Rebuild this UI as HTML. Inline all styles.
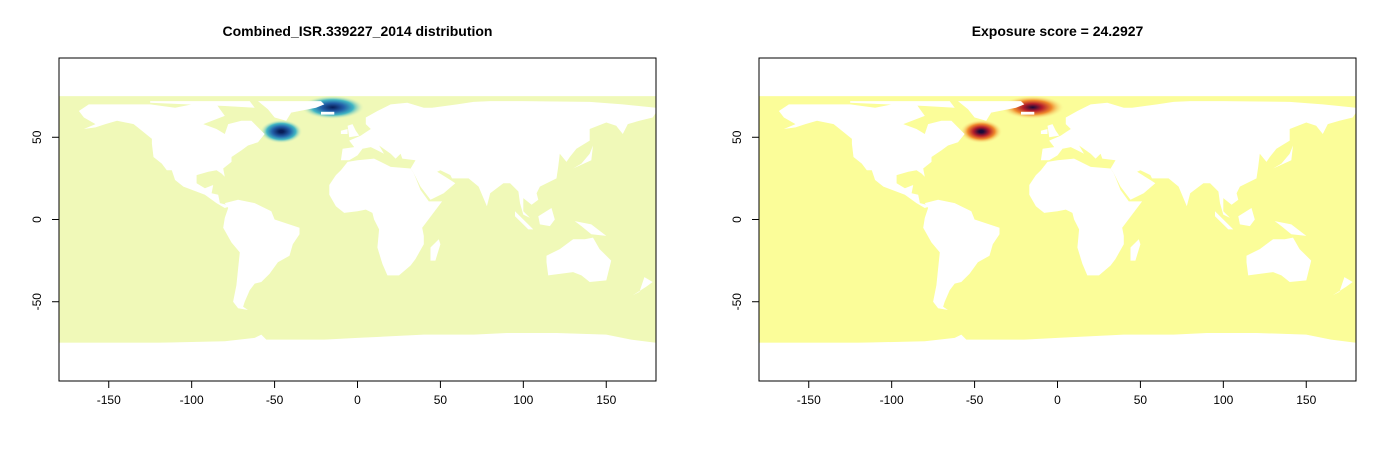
<!DOCTYPE html>
<html><head><meta charset="utf-8"><style>
body{margin:0;background:#fff;font-family:"Liberation Sans",Arial,sans-serif;}
svg text{font-family:"Liberation Sans",Arial,sans-serif;}
</style></head><body>
<svg id="root" width="1399" height="455" xmlns="http://www.w3.org/2000/svg"></svg>
<script>
const xTicks=[-150,-100,-50,0,50,100,150];
const yTicks=[-50,0,50];
const hotLon=[-46,-15];
const hotLat=[53.5,68.2];
const hotRx=[8,12];
const hotRy=[4.5,4.5];
const hotPeak=[0.75,1.0];
const titles=["Combined_ISR.339227_2014 distribution","Exposure score = 24.2927"];
const continents={
na:[[-168,66],[-162,70],[-140,70],[-125,70],[-110,68],[-95,71],[-85,70],[-80,63],[-93,58],[-85,55],[-80,52],[-78,58],[-70,60],[-64,60],[-56,52],[-60,47],[-66,45],[-70,42],[-76,38],[-76,35],[-81,31],[-80,26],[-82,28],[-85,30],[-90,29],[-97,27],[-97,22],[-92,19],[-87,21],[-88,16],[-84,15],[-83,10],[-79,9],[-77,8],[-80,7],[-85,10],[-92,15],[-105,20],[-110,24],[-112,30],[-115,30],[-118,34],[-123,38],[-124,46],[-124,49],[-130,54],[-135,58],[-145,60],[-152,58],[-158,56],[-165,55],[-158,58],[-165,62]],
arcticCa:[[-125,72],[-65,72],[-62,68],[-80,69],[-125,71]],
greenland:[[-60,72],[-22,72],[-20,70],[-25,68],[-40,65],[-43,60],[-50,62],[-54,67]],
iceland:[[-22,63.8],[-14,63.8],[-14,65.5],[-22,65.5]],
eurasia:[[-10,36],[-9,43],[-2,44],[-5,48],[2,51],[5,53],[8,55],[5,58],[5,62],[12,66],[20,70],[30,71],[40,68],[45,68],[60,70],[70,71.5],[80,72],[100,72],[140,71.5],[160,70],[180,68],[180,65],[178,62],[170,60],[163,58],[160,52],[156,57],[150,59],[140,55],[140,48],[132,43],[128,38],[126,35],[122,40],[121,32],[120,25],[110,20],[108,16],[109,12],[105,9],[100,13],[100,5],[104,1],[100,3],[98,10],[97,17],[92,22],[88,22],[80,16],[78,8],[73,20],[67,25],[57,25],[56,27],[50,30],[48,29],[56,24],[59,22],[52,16],[44,12],[38,20],[34,28],[32,31],[35,36],[27,37],[26,40],[23,37],[20,40],[13,45],[16,40],[12,42],[8,44],[3,43],[0,39],[-5,36]],
britain:[[-5,50],[1,51],[-1,54],[-3,58],[-6,57]],
ireland:[[-10,52],[-6,52],[-6,55],[-10,54]],
africa:[[-17,21],[-17,15],[-13,8],[-8,4],[0,5],[5,6],[9,4],[10,0],[13,-6],[12,-17],[15,-27],[18,-34],[25,-34],[32,-28],[35,-24],[40,-15],[40,-10],[39,-5],[42,-1],[51,11],[43,11],[38,18],[34,28],[32,31],[20,32],[10,37],[0,36],[-6,35],[-10,30],[-13,27]],
madagascar:[[44,-25],[47,-25],[50,-15],[49,-12],[44,-17]],
sa:[[-80,10],[-72,12],[-62,10],[-52,5],[-50,0],[-35,-5],[-35,-9],[-39,-15],[-41,-22],[-48,-26],[-53,-33],[-58,-38],[-62,-39],[-65,-43],[-68,-50],[-69,-53],[-66,-55],[-72,-54],[-75,-50],[-73,-40],[-72,-30],[-71,-20],[-76,-14],[-81,-5],[-80,1],[-78,7]],
australia:[[114,-22],[122,-18],[130,-12],[137,-12],[142,-11],[146,-18],[153,-25],[150,-37],[140,-38],[135,-34],[130,-32],[115,-34],[114,-26]],
borneo:[[109,2],[117,7],[119,0],[116,-4],[110,-3]],
sumatra:[[95,5],[106,-6],[103,-6],[95,2]],
newguinea:[[131,-1],[141,-3],[150,-10],[141,-9],[135,-4]],
japan:[[130,31],[141,36],[142,45],[140,40],[135,34]],
nz:[[166,-46],[174,-41],[178,-38],[173,-35],[170,-44]],
antarctica:[[-180,-76],[180,-76],[180,-75],[165,-73],[150,-70],[120,-69],[90,-69],[70,-70],[40,-70],[20,-71],[0,-72],[-20,-73],[-55,-73],[-58,-70],[-62,-72],[-80,-74],[-120,-75],[-180,-75]]
};
const NS="http://www.w3.org/2000/svg";
const root=document.getElementById('root');
function mk(tag,attrs,parent){const e=document.createElementNS(NS,tag);for(const k in attrs)e.setAttribute(k,attrs[k]);(parent||root).appendChild(e);return e;}
const panels=[{x0:59,ocean:"#f0f9b8",stops:[["#081d58",0],["#225ea8",0.35],["#41b6c4",0.65],["#f0f9b8",1]]},
              {x0:759,ocean:"#fbfd99",stops:[["#1a0a3a",0],["#b31d2b",0.3],["#f08a2c",0.6],["#fbfd99",1]]}];
const W=597,y0=58,H=323;
panels.forEach((p,pi)=>{
  const g=mk('g',{});
  
  
  const sx=lon=>p.x0+(lon+180)/360*W;
  const sy=lat=>y0+(98.2-lat)/196.4*H;
  const defs=mk('defs',{},g);
  const cp=mk('clipPath',{id:'clip'+pi},defs);
  mk('rect',{x:p.x0,y:y0,width:W,height:H},cp);
  const oc=mk('rect',{x:sx(-180),y:sy(75),width:W,height:sy(-75)-sy(75),fill:p.ocean},g);
  
  
  hotLon.forEach((lon,i)=>{
    const gr=mk('radialGradient',{id:'hg'+pi+'_'+i},defs);
    p.stops.forEach(s=>{mk('stop',{offset:(s[1]*0.999+(1-hotPeak[i])*0.4*(1-s[1])),'stop-color':s[0],'stop-opacity':s[1]>=1?0:1},gr);});
    const e=mk('ellipse',{cx:sx(lon),cy:sy(hotLat[i]),rx:hotRx[i]*W/360*1.6,ry:hotRy[i]*H/196.4*1.6,fill:'url(#hg'+pi+'_'+i+')'},g);
    
    
  });
  const lg=mk('g',{'clip-path':'url(#clip'+pi+')'},g);
  for(const k in continents){
    const pts=continents[k].map(q=>sx(q[0]).toFixed(1)+','+sy(q[1]).toFixed(1)).join(' ');
    const poly=mk('polygon',{points:pts,fill:'#fff'},lg);
    
    
  }
  const fr=mk('rect',{x:p.x0,y:y0,width:W,height:H,fill:'none',stroke:'#000','stroke-width':1},g);
  
  
  xTicks.forEach(t=>{
    mk('line',{x1:sx(t),x2:sx(t),y1:y0+H,y2:y0+H+7,stroke:'#000'},g);
    const tx=mk('text',{x:sx(t),y:y0+H+23,'font-size':12,'text-anchor':'middle'},g);
    tx.textContent=t;
    
    
  });
  yTicks.forEach(t=>{
    mk('line',{x1:p.x0,x2:p.x0-7,y1:sy(t),y2:sy(t),stroke:'#000'},g);
    const tx=mk('text',{x:p.x0-18,y:sy(t),'font-size':12,'text-anchor':'middle',transform:'rotate(-90 '+(p.x0-18)+' '+sy(t)+')'},g);
    tx.textContent=t;
    
    
  });
  const ti=mk('text',{x:p.x0+W/2,y:36,'font-size':14,'font-weight':'bold','text-anchor':'middle'},g);
  ti.textContent=titles[pi];
  
  
});
</script>
</body></html>
